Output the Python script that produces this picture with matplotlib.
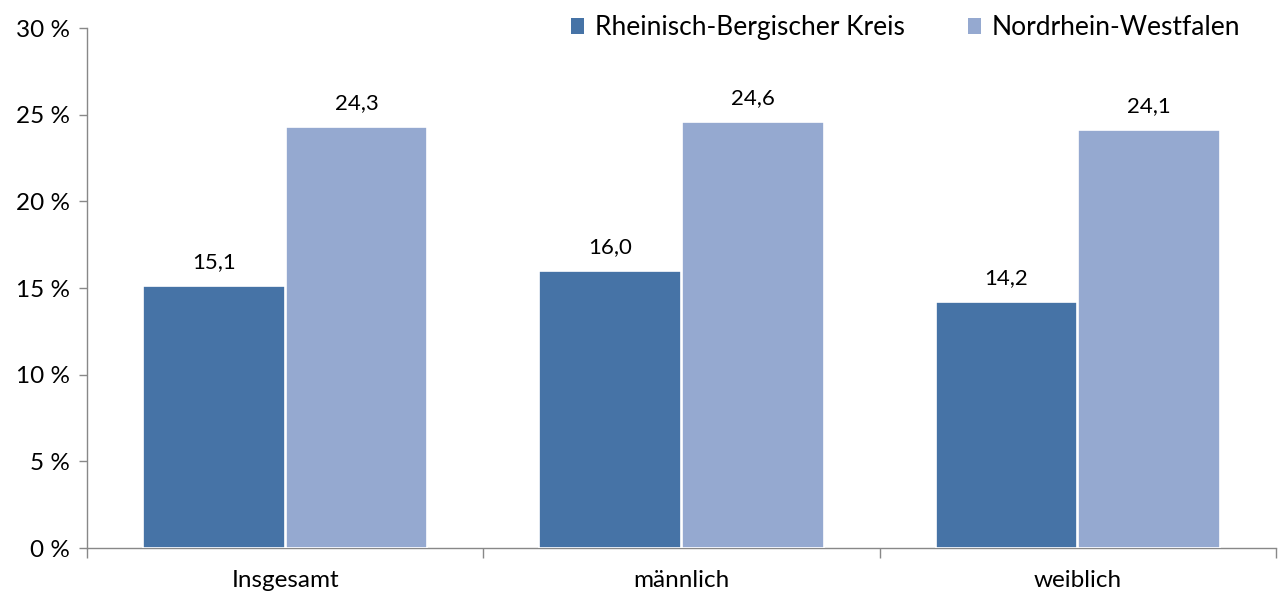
import matplotlib.pyplot as plt
from matplotlib.patches import Patch
from matplotlib.ticker import FuncFormatter, MultipleLocator
import numpy as np

categories = ["Insgesamt", "männlich", "weiblich"]
series_names = ["Rheinisch-Bergischer Kreis", "Nordrhein-Westfalen"]
rbk_values = [15.1, 16.0, 14.2]
nrw_values = [24.3, 24.6, 24.1]

colors = ["#4673A6", "#95A9D0"]

plt.rcParams['font.family'] = ['Lato', 'DejaVu Sans']

fig = plt.figure(figsize=(12.79, 5.96), dpi=100)
ax = fig.add_axes([0.068, 0.0805, 0.9297, 0.8725])

x = np.arange(len(categories))
width = 0.357
offset = 0.18

for vals, off, col in [(rbk_values, -offset, colors[0]), (nrw_values, offset, colors[1])]:
    bars = ax.bar(x + off, vals, width=width, color=col, edgecolor="white", linewidth=1.2, zorder=3)
    for b, v in zip(bars, vals):
        ax.annotate(f"{v:.1f}".replace(".", ","), (b.get_x() + b.get_width() / 2, v),
                    xytext=(0, 10), textcoords="offset points",
                    ha="center", va="bottom", fontsize=16, color="black")

ax.set_xlim(-0.5, len(categories) - 0.5)
ax.set_ylim(0, 30)
ax.yaxis.set_major_locator(MultipleLocator(5))
ax.yaxis.set_major_formatter(FuncFormatter(lambda v, p: f"{int(v)} %"))

ax.set_xticks(x)
ax.set_xticklabels(categories)
ax.set_xticks(np.arange(-0.5, len(categories), 1.0), minor=True)
ax.tick_params(axis="x", which="major", length=0, pad=16, labelsize=17.5)
ax.tick_params(axis="x", which="minor", length=7, width=1, color="#888888", direction="out")
ax.tick_params(axis="y", length=6, width=1, color="#888888", labelsize=17.5, pad=6)

for s in ["top", "right"]:
    ax.spines[s].set_visible(False)
for s in ["left", "bottom"]:
    ax.spines[s].set_color("#888888")
    ax.spines[s].set_linewidth(1)

handles = [Patch(facecolor=c, edgecolor="none") for c in colors]
ax.legend(handles, series_names, loc="upper right", bbox_to_anchor=(0.99, 1.07), ncol=2,
          frameon=False, fontsize=19, handlelength=0.5, handleheight=0.5,
          handletextpad=0.4, columnspacing=2.4)

fig.savefig("out.png", dpi=100)
